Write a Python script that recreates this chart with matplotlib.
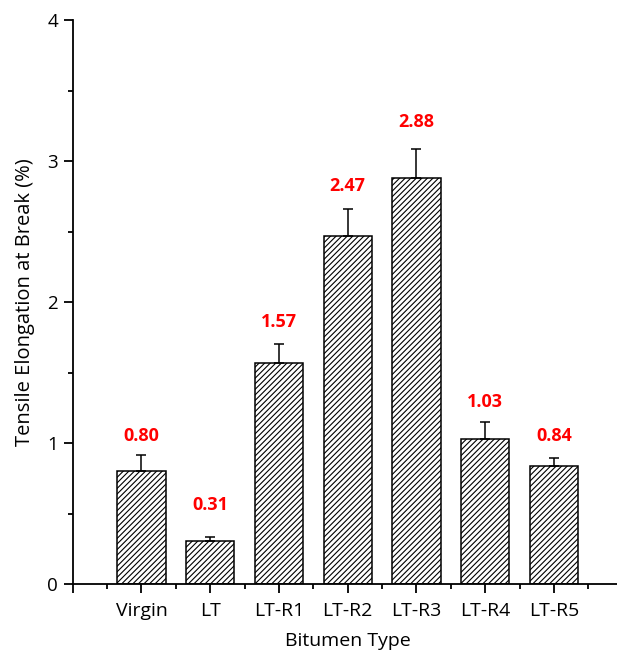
import matplotlib
matplotlib.use("Agg")
import matplotlib.pyplot as plt
from matplotlib.ticker import MultipleLocator, FixedLocator
import numpy as np

categories = ["Virgin", "LT", "LT-R1", "LT-R2", "LT-R3", "LT-R4", "LT-R5"]
values = [0.80, 0.31, 1.57, 2.47, 2.88, 1.03, 0.84]
errors = [0.115, 0.028, 0.134, 0.187, 0.207, 0.12, 0.057]
value_labels = ["0.80", "0.31", "1.57", "2.47", "2.88", "1.03", "0.84"]

# layout: label baseline offsets above error bar tops (points)
label_offsets = [10, 19.4, 12, 13, 16, 10.5, 12]

plt.rcParams['font.family'] = ['Open Sans', 'DejaVu Sans']
plt.rcParams['hatch.linewidth'] = 0.8

fig = plt.figure(figsize=(6.17, 6.55), dpi=100)
ax = fig.add_axes([72.7/617, (655-584.3)/655, 550/617, (584.3-20)/655])

x = np.arange(1, len(categories) + 1)
ax.bar(x, values, width=0.7, color='white', edgecolor='black', linewidth=1.1,
       hatch='//////', zorder=2)
ax.errorbar(x, values, yerr=[np.zeros(len(values)), errors], fmt='none',
            ecolor='black', elinewidth=1.1, capsize=3.3, capthick=1.1, zorder=3)

for xi, v, e, lab, off in zip(x, values, errors, value_labels, label_offsets):
    ax.annotate(lab, (xi, v + e), xytext=(0, off), textcoords='offset points',
                ha='center', va='baseline', color='red', fontweight='bold', fontsize=13)

ax.set_xlim(0, 8)
ax.set_ylim(0, 4)
ax.xaxis.set_major_locator(FixedLocator(np.arange(0, 9)))
ax.set_xticklabels([""] + categories + [""])
ax.xaxis.set_minor_locator(MultipleLocator(0.5))
ax.yaxis.set_major_locator(MultipleLocator(1))
ax.yaxis.set_minor_locator(MultipleLocator(0.5))

for s in ['top', 'right']:
    ax.spines[s].set_visible(False)
for s in ['left', 'bottom']:
    ax.spines[s].set_linewidth(1.3)

ax.tick_params(axis='both', which='major', direction='out', length=6.5, width=1.3)
ax.tick_params(axis='both', which='minor', direction='out', length=3.8, width=1.3)
ax.tick_params(axis='x', which='major', labelsize=14, pad=6)
ax.tick_params(axis='y', which='major', labelsize=13.5, pad=4)

ax.set_xlabel("Bitumen Type", fontsize=14, labelpad=9)
ax.set_ylabel("Tensile Elongation at Break (%)", fontsize=14.5, labelpad=9)

fig.savefig("out.png", dpi=100)
